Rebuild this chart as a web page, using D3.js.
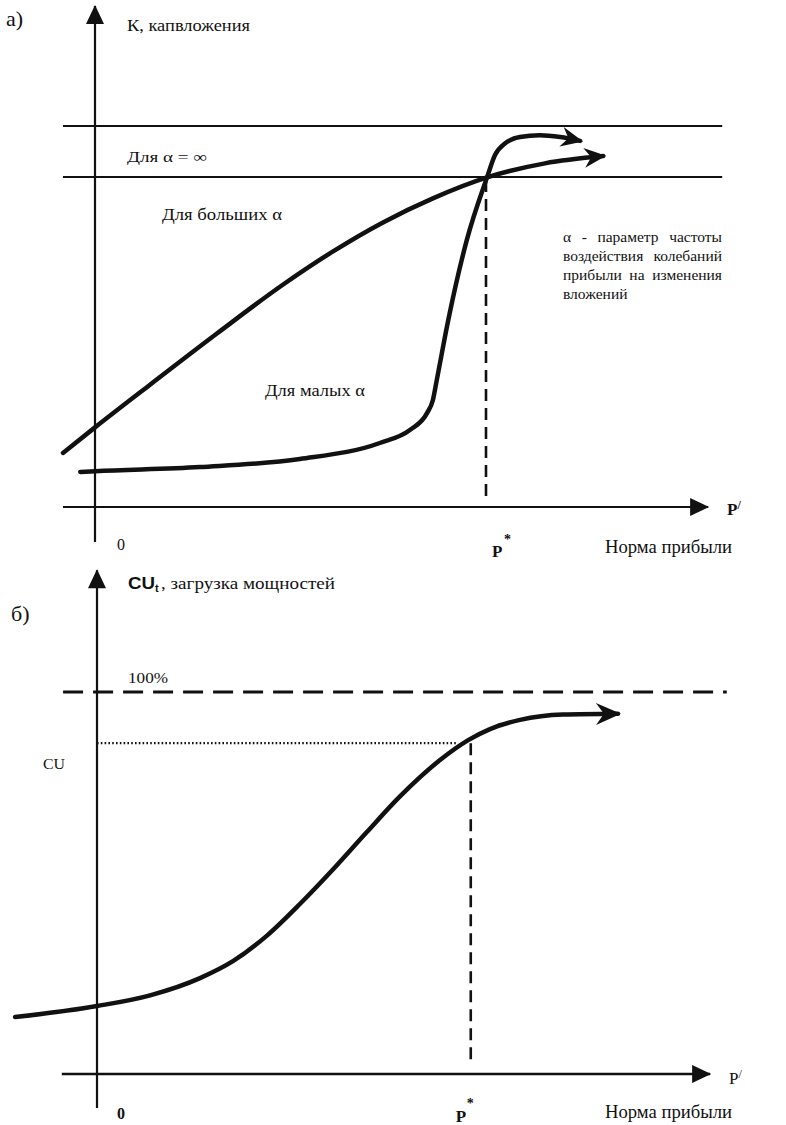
<!DOCTYPE html>
<html><head><meta charset="utf-8">
<script src="https://cdn.jsdelivr.net/npm/d3@7"></script>
<style>
body{margin:0;background:#fff}
svg{display:block}
text{font-family:"Liberation Serif","DejaVu Serif",serif;fill:#111}
</style>
</head><body>
<svg id="c" width="786" height="1125"></svg>
<script>
// ---------- Panel а) data (x: profit rate, y: investment K, arbitrary units) ----------
const largeAlphaX = [-5, 0, 8.6, 19.1, 29.4, 37.2, 45, 52.8, 61.25, 70.3, 79.4];
const largeAlphaY = [14.2, 20.9, 32.1, 45.6, 58.4, 67.1, 74.7, 81.0, 86.5, 90.2, 92.1];
const smallAlphaX = [-2.3, 0, 16.4, 32, 44.5, 49.2, 51.9, 52.8, 53.4, 55.2, 58.1, 61.25, 62.5, 64.1, 66.4, 69.5, 72.7, 75.8];
const smallAlphaY = [9.2, 9.4, 10.5, 12.6, 16.8, 20.2, 24.7, 28.1, 33.3, 49.1, 70.1, 86.5, 92.4, 95.5, 97.1, 97.6, 97.1, 96.1];
const levelsA = [100, 86.6];          // horizontal lines
const pStarA = 61.25;
const axisXExtentA = [-5, 95.8];
const axisYExtentA = [-9.2, 131.5];
const hLineExtentA = [-5, 98];

// ---------- Panel б) data (x: profit rate, y: capacity utilisation %) ----------
const cuX = [-12.8, 0, 8.3, 16.1, 21.3, 26.6, 31.7, 36.9, 42.2, 47.3, 53.6, 58, 61.4, 66.1, 72.8, 81.4];
const cuY = [14.9, 17.8, 20.6, 25.1, 29.6, 36.3, 44.5, 53.6, 63.4, 72.6, 82.2, 87.4, 90.3, 92.7, 94.1, 94.3];
const cuFull = 100;
const cuStar = 86.6;
const pStarB = 58.4;
const cuDottedEnd = 56.3;
const axisXExtentB = [-5.5, 95.8];
const axisYExtentB = [-8.9, 131.9];
const fullLineExtentB = [-5.3, 98.4];

// ---------- Text ----------
const noteLines = ["α - параметр частоты", "воздействия колебаний", "прибыли на изменения", "вложений"];

const svg = d3.select("#c");
const ink = "#111";

const xa = d3.scaleLinear().domain([0, 100]).range([95, 735]);
const ya = d3.scaleLinear().domain([0, 100]).range([507, 126]);
const xb = d3.scaleLinear().domain([0, 100]).range([97, 737]);
const yb = d3.scaleLinear().domain([0, 100]).range([1074, 692]);

const defs = svg.append("defs");
defs.append("marker").attr("id", "axArrow")
  .attr("markerUnits", "userSpaceOnUse").attr("viewBox", "-20 -10 22 20")
  .attr("markerWidth", 22).attr("markerHeight", 20).attr("refX", 0).attr("refY", 0)
  .attr("orient", "auto")
  .append("path").attr("d", "M1,0 L-18,-9 L-18,9 Z").attr("fill", ink);
defs.append("marker").attr("id", "cvArrow")
  .attr("markerUnits", "userSpaceOnUse").attr("viewBox", "-24 -14 28 28")
  .attr("markerWidth", 28).attr("markerHeight", 28).attr("refX", 0).attr("refY", 0)
  .attr("orient", "auto")
  .append("path").attr("d", "M3,0 L-19,-10 L-12,0 L-19,10 Z").attr("fill", ink);
defs.append("marker").attr("id", "cvArrowB")
  .attr("markerUnits", "userSpaceOnUse").attr("viewBox", "-26 -14 30 28")
  .attr("markerWidth", 30).attr("markerHeight", 28).attr("refX", 0).attr("refY", 0)
  .attr("orient", "auto")
  .append("path").attr("d", "M3,0 L-22,-11 L-14,0 L-22,11 Z").attr("fill", ink);

function seg(g, x1, y1, x2, y2, w, dash, marker) {
  const l = g.append("line").attr("x1", x1).attr("y1", y1).attr("x2", x2).attr("y2", y2)
    .attr("stroke", ink).attr("stroke-width", w);
  if (dash) l.attr("stroke-dasharray", dash);
  if (marker) l.attr("marker-end", `url(#${marker})`);
  return l;
}
function curve(g, X, Y, sx, sy, w, marker) {
  const line = d3.line().x(i => sx(X[i])).y(i => sy(Y[i])).curve(d3.curveMonotoneX);
  const p = g.append("path").attr("d", line(d3.range(X.length)))
    .attr("fill", "none").attr("stroke", ink).attr("stroke-width", w)
    .attr("stroke-linecap", "round").attr("stroke-linejoin", "round");
  if (marker) p.attr("marker-end", `url(#${marker})`);
}
function label(g, x, y, txt, size, opts = {}) {
  const t = g.append("text").attr("x", x).attr("y", y).attr("font-size", size).text(txt);
  if (opts.weight) t.attr("font-weight", opts.weight);
  if (opts.family) t.style("font-family", opts.family);
  if (opts.len) t.attr("textLength", opts.len).attr("lengthAdjust", "spacingAndGlyphs");
  return t;
}
function justified(g, lines, x0, x1, y0, lh, size) {
  lines.forEach((ln, i) => {
    const words = ln.split(" ");
    const y = y0 + i * lh;
    const nodes = words.map(w => g.append("text").attr("y", y).attr("font-size", size).text(w));
    const widths = nodes.map(n => n.node().getComputedTextLength());
    const last = i === lines.length - 1;
    const gap = (!last && words.length > 1) ? (x1 - x0 - d3.sum(widths)) / (words.length - 1) : size * 0.25;
    let x = x0;
    nodes.forEach((n, j) => { n.attr("x", x); x += widths[j] + gap; });
  });
}

// ================= Panel а) =================
const gA = svg.append("g");
levelsA.forEach(v => seg(gA, xa(hLineExtentA[0]), ya(v), xa(hLineExtentA[1]), ya(v), 2));
seg(gA, xa(pStarA) - 1, ya(85.8), xa(pStarA) - 1, ya(2.4), 2.6, "12,7");
seg(gA, xa(axisXExtentA[0]), ya(0), xa(axisXExtentA[1]), ya(0), 2.2, null, "axArrow");
seg(gA, xa(0), ya(axisYExtentA[0]), xa(0), ya(axisYExtentA[1]), 2.2, null, "axArrow");
curve(gA, largeAlphaX, largeAlphaY, xa, ya, 4.5, "cvArrow");
curve(gA, smallAlphaX, smallAlphaY, xa, ya, 4.5, "cvArrow");

label(gA, 6, 26, "а)", 22);
label(gA, 127, 31, "К, капвложения", 16, {len: 123});
label(gA, 127, 162, "Для α = ∞", 15, {len: 80});
label(gA, 162, 220, "Для больших α", 17, {len: 120});
label(gA, 265, 396, "Для малых α", 17, {len: 100});
justified(gA, noteLines, 563, 722, 242, 19, 15.5);
label(gA, 117, 550, "0", 16);
label(gA, xa(pStarA) + 5, 557, "P", 17, {weight: "bold"});
label(gA, xa(pStarA) + 17, 544, "*", 14, {weight: "bold"});
const pa = label(gA, 727, 515, "P", 17, {weight: "bold"});
pa.append("tspan").attr("font-size", 12).attr("dy", -6).text("/");
label(gA, 605, 553, "Норма прибыли", 18, {len: 127});

// ================= Panel б) =================
const gB = svg.append("g");
seg(gB, xb(fullLineExtentB[0]), yb(cuFull), xb(fullLineExtentB[1]), yb(cuFull), 3.2, "20,10");
seg(gB, xb(0), yb(cuStar), xb(cuDottedEnd), yb(cuStar), 2.2, "1.6,2.2");
seg(gB, xb(pStarB), yb(cuStar), xb(pStarB), yb(2.4), 2.6, "12,7");
seg(gB, xb(axisXExtentB[0]), yb(0), xb(axisXExtentB[1]), yb(0), 2.4, null, "axArrow");
seg(gB, xb(0), yb(axisYExtentB[0]), xb(0), yb(axisYExtentB[1]), 2.2, null, "axArrow");
curve(gB, cuX, cuY, xb, yb, 4.5, "cvArrowB");

label(gB, 11, 621, "б)", 22);
label(gB, 128, 589, "CU", 16, {weight: "bold", family: "'Liberation Sans', Arial, sans-serif", len: 27});
label(gB, 155, 592, "t", 11, {weight: "bold", family: "'Liberation Sans', Arial, sans-serif"});
label(gB, 161, 589, ", загрузка мощностей", 16, {len: 174});
label(gB, 128, 683, "100%", 15, {len: 40});
label(gB, 43, 769, "CU", 15, {len: 22});
label(gB, 117, 1119, "0", 16, {weight: "bold"});
label(gB, xb(pStarB) - 15, 1122, "P", 17, {weight: "bold"});
label(gB, xb(pStarB) - 4, 1108, "*", 14, {weight: "bold"});
const pb = label(gB, 729, 1084, "P", 17);
pb.append("tspan").attr("font-size", 12).attr("dy", -6).text("/");
label(gB, 605, 1118, "Норма прибыли", 18, {len: 127});
</script>
</body></html>
